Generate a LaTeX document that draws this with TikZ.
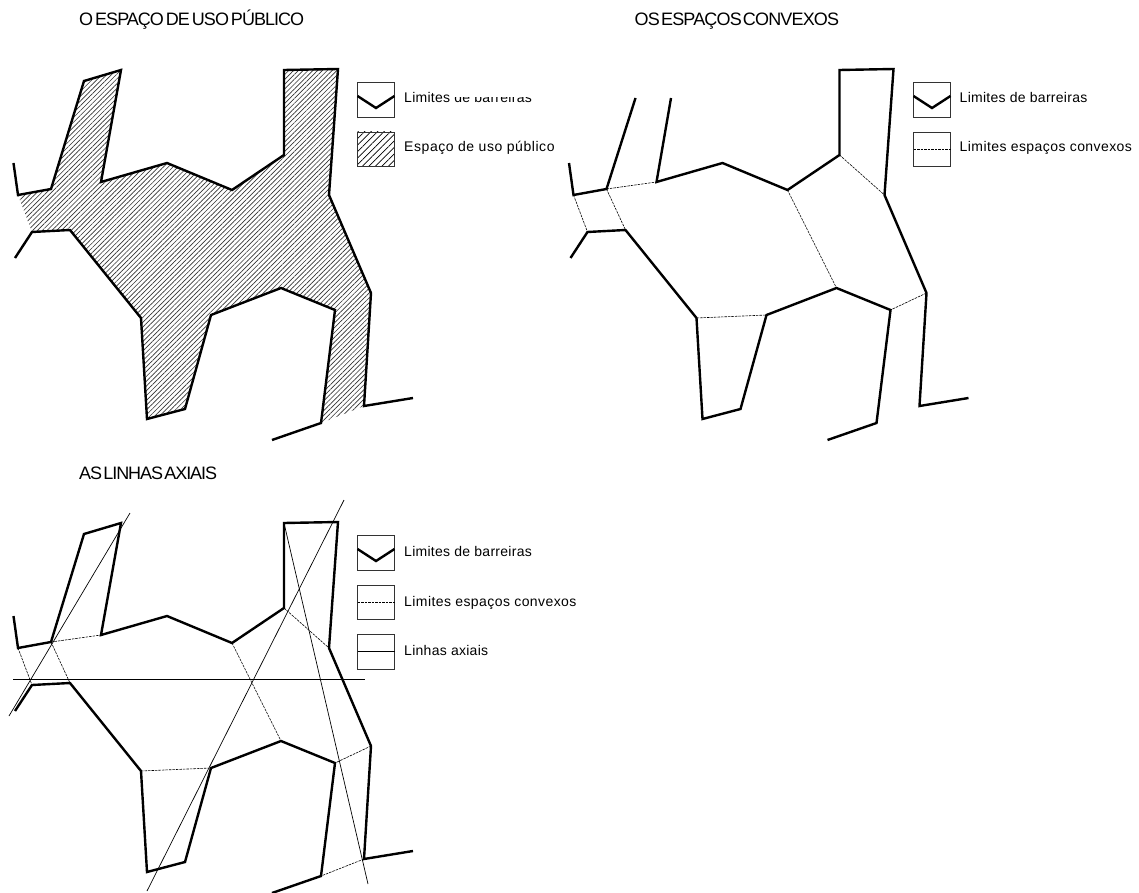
\documentclass[tikz,border=0pt]{standalone}
\usepackage{fontspec}
\setmainfont{Liberation Sans}
\usetikzlibrary{patterns.meta}
\newfontfamily\titlefont[WordSpace=.3,LetterSpace=-4.7]{Liberation Sans}
\newfontfamily\titlefontlarga[WordSpace=.5,LetterSpace=-5.5]{Liberation Sans}
\newfontfamily\legendfont[LetterSpace=3]{Liberation Sans}
\newfontfamily\legendfontcurta[LetterSpace=2]{Liberation Sans}
\newfontfamily\legendfontlarga[LetterSpace=4]{Liberation Sans}
\tikzset{
  barreira/.style={line width=2.4pt,line join=miter},
  convexo/.style={line width=.6pt,dash pattern=on 2.5pt off 1pt},
  axial/.style={line width=.7pt},
  caixa/.style={line width=.8pt,draw=black!80},
  hachura/.style={pattern={Lines[angle=45,distance=3.4pt,line width=.65pt]},pattern color=black!80},
  hachuracaixa/.style={pattern={Lines[angle=45,distance=4.6pt,line width=.7pt]}},
  titulo/.style={anchor=base west,inner sep=0pt,font=\titlefont\fontsize{18}{20}\selectfont},
  legenda/.style={anchor=base west,inner sep=0pt,font=\legendfont\fontsize{14}{16}\selectfont},
  legendacurta/.style={legenda,font=\legendfontcurta\fontsize{14}{16}\selectfont},
  legendalarga/.style={legenda,font=\legendfontlarga\fontsize{14}{16}\selectfont}
}
% os vertices da planta, repetidos em cada painel
\newcommand{\vertices}{
  \coordinate (a) at (13.5,163); \coordinate (b) at (18,195);
  \coordinate (c) at (51,189); \coordinate (d) at (84,81);
  \coordinate (e) at (121,70); \coordinate (f) at (101,182);
  \coordinate (g) at (167,163); \coordinate (h) at (232,190);
  \coordinate (i) at (284,155); \coordinate (j) at (284,70);
  \coordinate (k) at (338,69); \coordinate (l) at (329,195);
  \coordinate (m) at (371,293); \coordinate (n) at (364,406);
  \coordinate (o) at (413,398);
  \coordinate (p) at (15,258); \coordinate (q) at (32,232);
  \coordinate (r) at (70,230); \coordinate (s) at (141,318);
  \coordinate (t) at (147,419); \coordinate (u) at (185,409);
  \coordinate (v) at (211,315); \coordinate (w) at (281,288);
  \coordinate (x) at (335,310); \coordinate (y) at (321,423);
  \coordinate (z) at (272,440);
}
\newcommand{\convexos}{
  \draw[convexo] (c) -- (f);
  \draw[convexo] (b) -- (q);
  \draw[convexo] (c) -- (r);
  \draw[convexo] (h) -- (w);
  \draw[convexo] (i) -- (l);
  \draw[convexo] (s) -- (v);
  \draw[convexo] (m) -- (x);
}
\newcommand{\ladoesq}{
  \draw[barreira] (p) -- (q) -- (r) -- (s) -- (t) -- (u) -- (v) -- (w) -- (x) -- (y) -- (z);
}
\begin{document}
\begin{tikzpicture}[x=1pt,y=-1pt]
  \useasboundingbox (0,0) rectangle (1139,893);

  % painel 1
  \vertices
  \node[titulo,font=\titlefontlarga\fontsize{18}{20}\selectfont] (tit1) at (79,26) {O ESPAÇO DE USO PÚBLICO};
  \fill[hachura] (b) -- (c) -- (d) -- (e) -- (f) -- (g) -- (h) -- (i) -- (j) -- (k) -- (l) -- (m) -- (n) -- (y) -- (x) -- (w) -- (v) -- (u) -- (t) -- (s) -- (r) -- (q) -- cycle;
  \draw[barreira] (a) -- (b) -- (c) -- (d) -- (e) -- (f) -- (g) -- (h) -- (i) -- (j) -- (k) -- (l) -- (m) -- (n) -- (o);
  \ladoesq
  \draw[caixa] (357.5,82) rectangle (394.5,117);
  \draw[barreira] (357.5,96) -- (376,108) -- (394.5,96);
  \node[legendacurta] (leg1a) at (404,103) {Limites de barreiras};
  \fill[white] (450,90) rectangle (540,97.5);
  \draw[caixa,hachuracaixa] (357.5,132) rectangle (394.5,166);
  \node[legendalarga] (leg1b) at (404,152) {Espaço de uso público};

  % painel 2
  \begin{scope}[xshift=555.5pt]
    \vertices
    \coordinate (d) at (80,98);
    \coordinate (e) at (115.5,98);
    \draw[barreira] (a) -- (b) -- (c) -- (d);
    \draw[barreira] (e) -- (f) -- (g) -- (h) -- (i) -- (j) -- (k) -- (l) -- (m) -- (n) -- (o);
    \ladoesq
    \convexos
    \node[titulo] (tit2) at (79,26) {OS ESPAÇOS CONVEXOS};
    \draw[caixa] (358,82) rectangle (395,117);
    \draw[barreira] (358,96) -- (376.5,108) -- (395,96);
    \node[legendacurta] (leg2a) at (404,103) {Limites de barreiras};
    \draw[caixa] (358,132) rectangle (395,166);
    \coordinate (c2a) at (358,149); \coordinate (c2b) at (395,149);
    \draw[convexo] (c2a) -- (c2b);
    \node[legenda] (leg2b) at (404,152) {Limites espaços convexos};
  \end{scope}

  % painel 3
  \begin{scope}[yshift=-453pt]
    \vertices
    \draw[barreira] (a) -- (b) -- (c) -- (d) -- (e) -- (f) -- (g) -- (h) -- (i) -- (j) -- (k) -- (l) -- (m) -- (n) -- (o);
    \ladoesq
    \convexos
    \draw[convexo] (n) -- (y);
    \draw[axial] (9,263) -- (130,60);
    \draw[axial] (13,226) -- (365,226);
    \draw[axial] (147,438) -- (344,47);
    \draw[axial] (284,70) -- (368,431);
    \node[titulo,font=\titlefont\fontsize{18}{20}\selectfont\addfontfeature{LetterSpace=-5.8}] (tit3) at (79,26) {AS LINHAS AXIAIS};
    \draw[caixa] (357.5,82) rectangle (394.5,117);
    \draw[barreira] (357.5,96) -- (376,108) -- (394.5,96);
    \node[legendacurta] (leg3a) at (404,103) {Limites de barreiras};
    \draw[caixa] (357.5,132) rectangle (394.5,166);
    \coordinate (c3a) at (357.5,149); \coordinate (c3b) at (394.5,149);
    \draw[convexo] (c3a) -- (c3b);
    \node[legenda] (leg3b) at (404,153) {Limites espaços convexos};
    \draw[caixa] (357.5,181) rectangle (394.5,216);
    \coordinate (c3c) at (357.5,198); \coordinate (c3d) at (394.5,198);
    \draw[axial] (c3c) -- (c3d);
    \node[legendacurta] (leg3c) at (404,202) {Linhas axiais};
  \end{scope}
\end{tikzpicture}
\end{document}
